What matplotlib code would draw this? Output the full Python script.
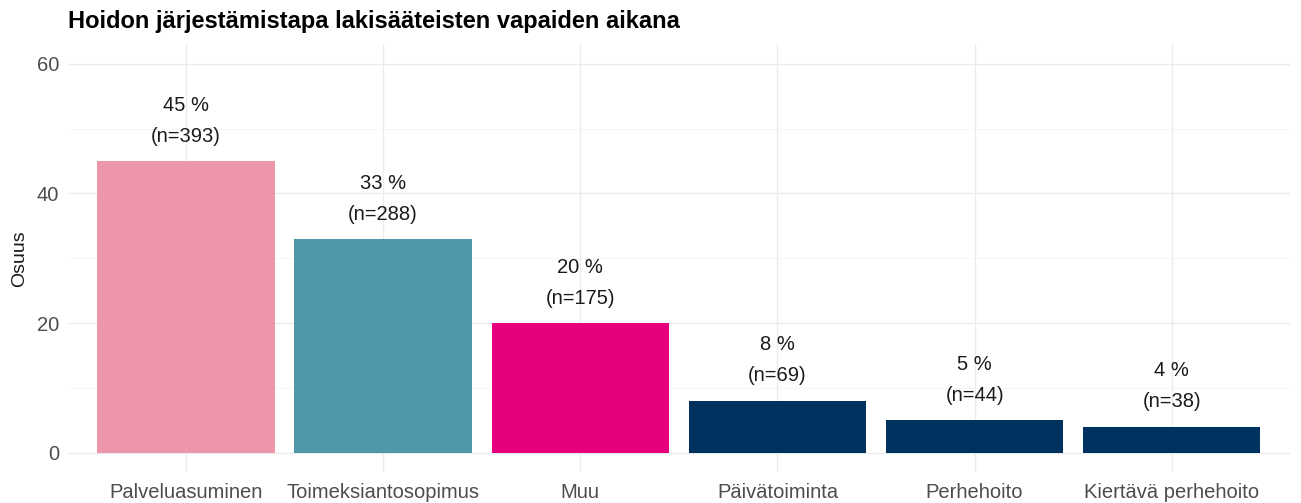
import matplotlib
matplotlib.use("Agg")
import matplotlib.pyplot as plt

categories = ["Palveluasuminen", "Toimeksiantosopimus", "Muu", "Päivätoiminta", "Perhehoito", "Kiertävä perhehoito"]
percent = [45, 33, 20, 8, 5, 4]
counts = [393, 288, 175, 69, 44, 38]
colors = ["#EE96A9", "#4E98A9", "#E6007E", "#00325F", "#00325F", "#00325F"]
yticks = [0, 20, 40, 60]

plt.rcParams['font.family'] = ['Liberation Sans', 'DejaVu Sans']

fig = plt.figure(figsize=(13.01, 5.03), dpi=100)
ax = fig.add_axes([0.052, 0.0616, 0.9396, 0.85])

x = list(range(len(categories)))
ax.bar(x, percent, width=0.9, color=colors, zorder=3)
for xi, p, n in zip(x, percent, counts):
    ax.annotate(f"{p} %\n(n={n})", (xi, p), xytext=(0, 11), textcoords="offset points",
                ha="center", va="bottom", fontsize=14.5, color="#1a1a1a", linespacing=1.8)

ax.set_xlim(-0.6, len(categories) - 0.4)
ax.set_ylim(-3, 63)
ax.set_yticks(yticks)
ax.set_yticks([10, 30, 50], minor=True)
ax.set_xticks(x)
ax.set_xticklabels(categories)
ax.tick_params(axis="both", which="both", length=0, labelsize=14.5, labelcolor="#4d4d4d")
ax.tick_params(axis="x", pad=8)
ax.tick_params(axis="y", pad=6)
ax.grid(True, which="major", color="#EBEBEB", linewidth=1.0, zorder=0)
ax.grid(True, which="minor", axis="y", color="#F4F4F4", linewidth=0.6, zorder=0)
for s in ax.spines.values():
    s.set_visible(False)
ax.set_ylabel("Osuus", fontsize=14, color="#1a1a1a", labelpad=6)
fig.text(0.052, 0.958, "Hoidon järjestämistapa lakisääteisten vapaiden aikana",
         fontsize=17, fontweight="bold", ha="left", va="center", color="#000000")

fig.savefig("out.png", dpi=100)
